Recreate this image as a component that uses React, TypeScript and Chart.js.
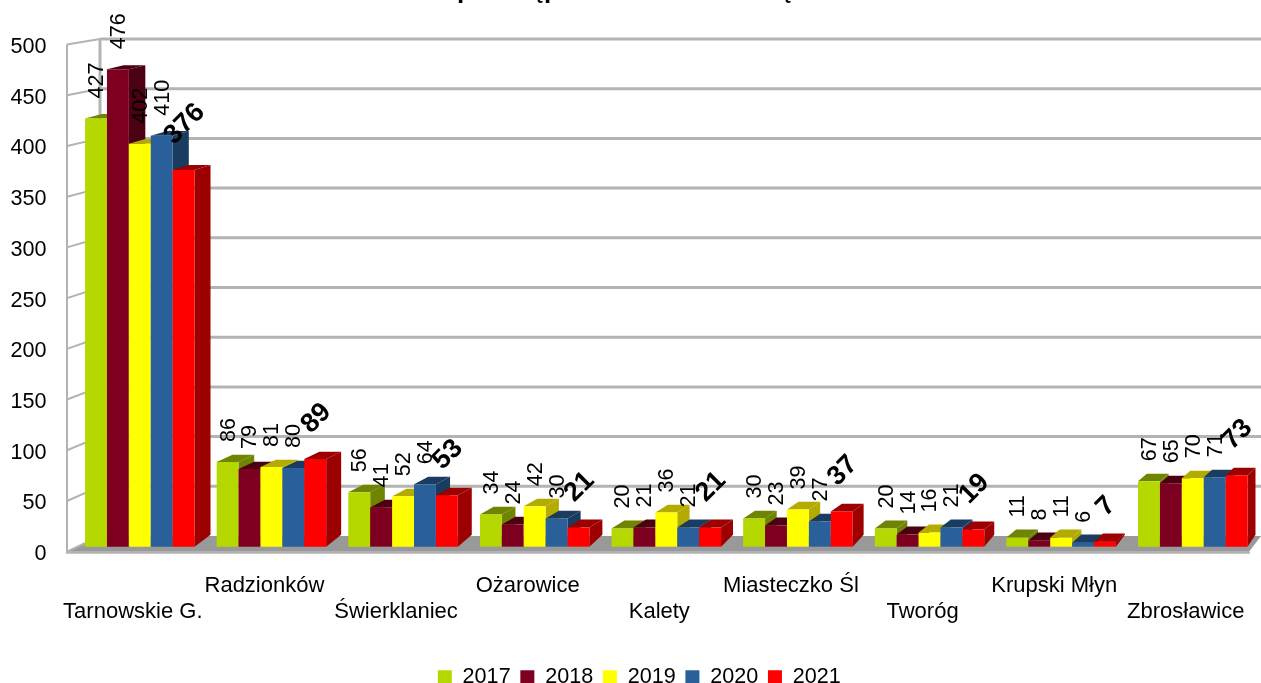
import React, { useEffect, useRef } from "react";
import { Chart, registerables } from "chart.js";

Chart.register(...registerables);

const categories = [
  ["", "Tarnowskie G."],
  ["Radzionków", ""],
  ["", "Świerklaniec"],
  ["Ożarowice", ""],
  ["", "Kalety"],
  ["Miasteczko Śl", ""],
  ["", "Tworóg"],
  ["Krupski Młyn", ""],
  ["", "Zbrosławice"],
];
const v2017 = [427, 86, 56, 34, 20, 30, 20, 11, 67];
const v2018 = [476, 79, 41, 24, 21, 23, 14, 8, 65];
const v2019 = [402, 81, 52, 42, 36, 39, 16, 11, 70];
const v2020 = [410, 80, 64, 30, 21, 27, 21, 6, 71];
const v2021 = [376, 89, 53, 21, 21, 37, 19, 7, 73];
const years = ["2017", "2018", "2019", "2020", "2021"];
const frontColors = ["#b4d800", "#7e0021", "#ffff00", "#2a6099", "#ff0000"];
const sideColors = ["#6f8400", "#4b0014", "#b3ab00", "#1a3c60", "#9c0000"];
const seriesValues = [v2017, v2018, v2019, v2020, v2021];
const FONT = "'Liberation Sans', Arial, sans-serif";
const baseFont = { family: FONT, size: 21.6 };
const GRID = "#b3b3b3";

const depthY = (y: number) => 4 + ((y - 69) * 4) / 470;
const depthX = (x: number) => 16 - ((x - 190) * 8) / 1050;
const FLOOR_DEPTH = 12;

const poly = (ctx: CanvasRenderingContext2D, pts: number[][], fill: string) => {
  ctx.beginPath();
  pts.forEach(([x, y], i) => (i ? ctx.lineTo(x, y) : ctx.moveTo(x, y)));
  ctx.closePath();
  ctx.fillStyle = fill;
  ctx.fill();
};

const wall3d = {
  id: "wall3d",
  afterLayout(chart: any) {
    const lg = chart.legend;
    lg.top += 15;
    lg.bottom += 15;
    lg.left += 10;
    lg.right += 10;
  },
  beforeDatasetsDraw(chart: any) {
    const { ctx, scales } = chart;
    const y = scales.yLabels;
    const zero = y.getPixelForValue(0);
    const span = zero - y.getPixelForValue(500);
    const backY = (p: number) => 536 - (497 * (zero - p)) / span;
    ctx.save();
    // clipped title descenders seen at the top edge of the reference
    ctx.fillStyle = "#000";
    ctx.font = `bold 26px ${FONT}`;
    ctx.textBaseline = "alphabetic";
    ctx.textAlign = "center";
    ctx.fillText("p", 465, -2);
    ctx.fillText("ę", 538, -2);
    ctx.fillText("p", 552, -2);
    ctx.fillText("ę", 786, -2);

    poly(ctx, [[67, zero], [100, 536], [1261, 536], [1249, zero]], "#999999");
    ctx.strokeStyle = GRID;
    ctx.lineWidth = 2;
    ctx.beginPath();
    ctx.moveTo(67, y.getPixelForValue(500));
    ctx.lineTo(67, zero + 1);
    ctx.lineTo(1250, zero + 1);
    ctx.stroke();
    ctx.lineWidth = 3;
    ctx.beginPath();
    ctx.moveTo(100, 39);
    ctx.lineTo(100, 536);
    ctx.stroke();
    y.ticks.forEach((t: any) => {
      const p = y.getPixelForValue(t.value);
      ctx.lineWidth = 2;
      ctx.beginPath();
      ctx.moveTo(67, p);
      ctx.lineTo(100, backY(p));
      ctx.stroke();
      if (t.value > 0) {
        ctx.lineWidth = 3;
        ctx.beginPath();
        ctx.moveTo(100, backY(p));
        ctx.lineTo(1261, backY(p));
        ctx.stroke();
      }
    });
    ctx.restore();
  },
  beforeDatasetDraw() {
    return false;
  },
  afterDatasetsDraw(chart: any) {
    const { ctx } = chart;
    ctx.save();
    seriesValues.forEach((_, ds) => {
      const meta = chart.getDatasetMeta(ds);
      meta.data.forEach((el: any) => {
        const l = el.x - el.width / 2;
        const r = el.x + el.width / 2;
        const dxR = depthX(r);
        const dxL = depthX(l);
        const dyT = depthY(el.y);
        poly(ctx, [[r, el.y], [r + dxR, el.y - dyT], [r + dxR, el.base - FLOOR_DEPTH], [r, el.base]], sideColors[ds]);
        poly(ctx, [[l, el.y], [l + dxL, el.y - dyT], [r + dxR, el.y - dyT], [r, el.y]], sideColors[ds]);
        el.draw(ctx);
      });
    });
    // data labels
    ctx.fillStyle = "#000";
    seriesValues.forEach((vals, ds) => {
      const meta = chart.getDatasetMeta(ds);
      meta.data.forEach((el: any, i: number) => {
        const text = String(vals[i]);
        ctx.save();
        if (ds === 4) {
          ctx.font = `bold 27px ${FONT}`;
          const w = ctx.measureText(text).width;
          ctx.translate(el.x + 1, el.y - 30 - (w / 2) * 0.707);
          ctx.rotate(-Math.PI / 4);
          ctx.textAlign = "center";
          ctx.textBaseline = "middle";
        } else {
          ctx.font = `21.6px ${FONT}`;
          ctx.translate(el.x + 1, el.y - 20);
          ctx.rotate(-Math.PI / 2);
          ctx.textAlign = "left";
          ctx.textBaseline = "middle";
        }
        ctx.fillText(text, 0, 0);
        ctx.restore();
      });
    });
    ctx.restore();
  },
};

export default function App() {
  const ref = useRef<HTMLCanvasElement>(null);
  useEffect(() => {
    const chart = new Chart(ref.current as HTMLCanvasElement, {
      type: "bar",
      data: {
        labels: categories as any,
        datasets: years.map((y, i) => ({
          label: y,
          data: seriesValues[i],
          backgroundColor: frontColors[i],
          borderWidth: 0,
          categoryPercentage: 0.832,
          barPercentage: 1,
          base: 2,
          yAxisID: "y",
        })),
      },
      options: {
        responsive: false,
        animation: false,
        devicePixelRatio: 1,
        layout: { padding: { left: 0, right: 2.4, top: 44.5, bottom: 0 } },
        plugins: {
          title: { display: false },
          tooltip: { enabled: false },
          legend: {
            display: true,
            position: "bottom",
            labels: {
              boxWidth: 14,
              boxHeight: 14,
              padding: 9.7,
              color: "#000",
              font: baseFont,
            },
          },
        },
        scales: {
          x: {
            grid: { display: false, drawTicks: false },
            border: { display: false },
            afterFit: (s: any) => {
              s.height = 90;
              s.paddingLeft = 0;
              s.paddingRight = 0;
            },
            ticks: {
              autoSkip: false,
              maxRotation: 0,
              minRotation: 0,
              labelOffset: -7,
              padding: 21,
              color: "#000",
              font: { family: FONT, size: 22, lineHeight: 1.18 },
            },
          },
          // scale of the bars, seated slightly behind the front plane
          y: {
            display: false,
            min: -3,
            max: 500.5,
          },
          // scale of the front plane, which the tick labels follow
          yLabels: {
            position: "left",
            min: 0,
            max: 500,
            grid: { display: false, drawTicks: false },
            border: { display: false },
            afterFit: (s: any) => {
              s.width = 74;
            },
            ticks: {
              stepSize: 50,
              labelOffset: 2.5,
              padding: 27.5,
              color: "#000",
              font: baseFont,
            },
          },
        },
      } as any,
      plugins: [wall3d as any],
    });
    return () => chart.destroy();
  }, []);
  return (
    <canvas
      ref={ref}
      width={1261}
      height={683}
      style={{ position: "fixed", left: 0, top: 0, width: 1261, height: 683, filter: "blur(0.6px)" }}
    />
  );
}
